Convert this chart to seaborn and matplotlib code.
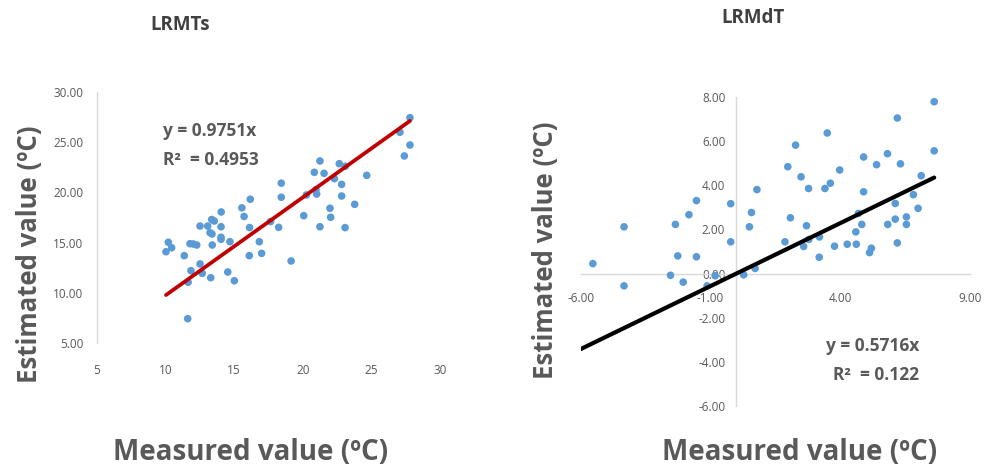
import numpy as np
import pandas as pd
import matplotlib
matplotlib.use("Agg")
import matplotlib.pyplot as plt
import seaborn as sns

# ---------------- data ----------------
lrmts_measured = [27.81, 27.08, 27.81, 27.40, 21.25, 22.66, 23.10, 20.84, 21.55, 24.66,
                  22.30, 22.83, 18.43, 18.43, 20.96, 20.26, 21.01, 22.83, 23.78, 21.98,
                  22.03, 20.07, 21.25, 23.08, 19.15, 14.05, 13.36, 13.55, 12.51, 13.07,
                  14.04, 15.72, 16.12, 13.24, 13.38, 14.04, 14.04, 14.69, 13.40, 10.20,
                  10.44, 10.03, 11.78, 12.02, 12.27, 11.36, 16.10, 16.83, 17.00, 17.65,
                  18.24, 12.51, 11.85, 12.67, 13.29, 14.53, 15.01, 11.64, 11.61, 16.17,
                  15.56]
lrmts_estimated = [27.44, 25.99, 24.72, 23.63, 23.13, 22.86, 22.60, 22.00, 21.90, 21.70,
                   21.37, 20.80, 20.92, 19.52, 20.27, 19.74, 19.84, 19.64, 18.81, 18.42,
                   17.52, 17.68, 16.58, 16.49, 13.17, 18.05, 17.30, 17.15, 16.65, 16.65,
                   16.58, 17.60, 16.50, 15.99, 15.86, 15.53, 15.33, 15.09, 14.76, 15.03,
                   14.49, 14.09, 14.89, 14.86, 14.76, 13.70, 13.70, 15.09, 13.93, 17.10,
                   16.52, 12.87, 12.20, 11.94, 11.50, 12.07, 11.20, 11.05, 7.42, 19.32,
                   18.46]
lrmts_slope = 0.9751
lrmts_r2 = 0.4953

lrmdt_measured = [-5.53, -4.33, -4.33, -2.54, -2.35, -2.26, -2.05, -1.83, -1.54, -1.54,
                  -1.13, -0.82, -0.22, -0.22, 0.28, 0.50, 0.58, 0.72, 0.79, 1.87,
                  1.98, 2.08, 2.28, 2.49, 2.59, 2.70, 2.78, 2.79, 3.20, 3.19,
                  3.41, 3.50, 3.62, 3.78, 3.98, 4.27, 4.60, 4.62, 4.70, 4.83,
                  4.90, 4.90, 5.13, 5.20, 5.40, 5.82, 5.83, 6.12, 6.12, 6.20,
                  6.20, 6.32, 6.55, 6.55, 6.82, 7.00, 7.12, 7.62, 7.62]
lrmdt_estimated = [0.45, 2.12, -0.56, -0.08, 2.23, 0.80, -0.39, 2.67, 3.31, 0.76,
                   -0.56, -0.10, 3.17, 1.44, -0.06, 2.12, 2.77, 0.23, 3.81, 1.44,
                   4.85, 2.53, 5.83, 4.39, 1.23, 2.17, 3.86, 1.55, 1.66, 0.74,
                   3.86, 6.38, 4.10, 1.24, 4.70, 1.33, 1.89, 1.33, 2.73, 2.23,
                   5.29, 3.71, 0.95, 1.15, 4.94, 5.44, 2.23, 2.47, 3.18, 1.39,
                   7.06, 4.98, 2.57, 2.23, 3.58, 2.96, 4.44, 7.80, 5.57]
lrmdt_slope = 0.5716
lrmdt_r2 = 0.122

titles = ["LRMTs", "LRMdT"]
x_label = "Measured value (ºC)"
y_label = "Estimated value (ºC)"
left_xticks = [5, 10, 15, 20, 25, 30]
left_yticks = [5, 10, 15, 20, 25, 30]
right_xticks = [-6, -1, 4, 9]
right_yticks = [-6, -4, -2, 0, 2, 4, 6, 8]

# ---------------- style ----------------
sns.set_theme(style="white")
plt.rcParams["font.family"] = ["Open Sans", "DejaVu Sans"]

DOT = "#5B9BD5"
GRAY_TXT = "#595959"
SPINE = "#D9D9D9"

fig = plt.figure(figsize=(9.84, 4.69), dpi=100)
W, H = 984, 469


def ax_rect(x0, x1, y_top, y_bot):
    return [x0 / W, 1 - y_bot / H, (x1 - x0) / W, (y_bot - y_top) / H]


# ---------------- left panel ----------------
axL = fig.add_axes(ax_rect(97, 440, 92, 343))
dfL = pd.DataFrame({"measured": lrmts_measured, "estimated": lrmts_estimated})
sns.scatterplot(data=dfL, x="measured", y="estimated", ax=axL, color=DOT, s=30,
                edgecolor="none", linewidth=0, zorder=3)
xl = np.array([min(lrmts_measured), max(lrmts_measured)])
sns.lineplot(x=xl, y=lrmts_slope * xl, ax=axL, color="#C00000", linewidth=2.7, zorder=4)
axL.set_xlim(5, 30)
axL.set_ylim(5, 30)
axL.set_xticks(left_xticks)
axL.set_yticks(left_yticks)
axL.set_xticklabels([f"{v:d}" for v in left_xticks])
axL.set_yticklabels([f"{v:.2f}" for v in left_yticks])
for s in ["top", "right", "bottom"]:
    axL.spines[s].set_visible(False)
axL.spines["left"].set_color(SPINE)
axL.spines["left"].set_linewidth(1.0)
axL.tick_params(axis="both", length=0, labelsize=8.5, labelcolor=GRAY_TXT)
axL.tick_params(axis="x", pad=15)
axL.tick_params(axis="y", pad=10)
axL.set_xlabel("")
axL.set_ylabel("")

# ---------------- right panel ----------------
axR = fig.add_axes(ax_rect(580.7, 970, 97.3, 405.7))
dfR = pd.DataFrame({"measured": lrmdt_measured, "estimated": lrmdt_estimated})
sns.scatterplot(data=dfR, x="measured", y="estimated", ax=axR, color=DOT, s=30,
                edgecolor="none", linewidth=0, zorder=3)
axR.set_xlim(-6, 9)
axR.set_ylim(-6, 8)
xr = np.array([axR.get_xlim()[0], max(lrmdt_measured)])
sns.lineplot(x=xr, y=lrmdt_slope * xr, ax=axR, color="black", linewidth=3.0, zorder=4)
axR.set_xlim(-6, 9)
axR.set_ylim(-6, 8)
axR.set_xticks(right_xticks)
axR.set_yticks(right_yticks)
axR.set_xticklabels([f"{v:.2f}" for v in right_xticks])
axR.set_yticklabels([f"{v:.2f}" for v in right_yticks])
for s in ["top", "right"]:
    axR.spines[s].set_visible(False)
axR.spines["left"].set_position(("data", 0))
axR.spines["bottom"].set_position(("data", 0))
for s in ["left", "bottom"]:
    axR.spines[s].set_color(SPINE)
    axR.spines[s].set_linewidth(1.0)
axR.tick_params(axis="both", length=0, labelsize=8.5, labelcolor=GRAY_TXT)
axR.tick_params(axis="x", pad=13)
axR.tick_params(axis="y", pad=8)
axR.set_xlabel("")
axR.set_ylabel("")

# ---------------- texts ----------------
TITLE_C = "#404040"
fig.text(180 / W, 1 - 25 / H, titles[0], ha="center", va="center",
         fontsize=13.5, fontweight="bold", color=TITLE_C)
fig.text(753 / W, 1 - 18 / H, titles[1], ha="center", va="center",
         fontsize=13.5, fontweight="bold", color=TITLE_C)

XLBL_FONT = dict(fontsize=20, fontweight="bold", color=GRAY_TXT)
YLBL_FONT = dict(fontsize=18.5, fontweight="bold", color=GRAY_TXT)
fig.text(30 / W, 1 - 254 / H, y_label, rotation=90, ha="center", va="center", **YLBL_FONT)
fig.text(545 / W, 1 - 250 / H, y_label, rotation=90, ha="center", va="center", **YLBL_FONT)
fig.text(251 / W, 1 - 452 / H, x_label, ha="center", va="center", **XLBL_FONT)
fig.text(800 / W, 1 - 452 / H, x_label, ha="center", va="center", **XLBL_FONT)

EQ_FONT = dict(fontsize=12.5, fontweight="bold", color=GRAY_TXT, ha="left", va="center")
fig.text(163 / W, 1 - 131 / H, f"y = {lrmts_slope}x", **EQ_FONT)
fig.text(163 / W, 1 - 160 / H, f"R²  = {lrmts_r2}", **EQ_FONT)
fig.text(826 / W, 1 - 346 / H, f"y = {lrmdt_slope}x", **EQ_FONT)
fig.text(833 / W, 1 - 375 / H, f"R²  = {lrmdt_r2}", **EQ_FONT)

fig.savefig("out.png", dpi=100)
